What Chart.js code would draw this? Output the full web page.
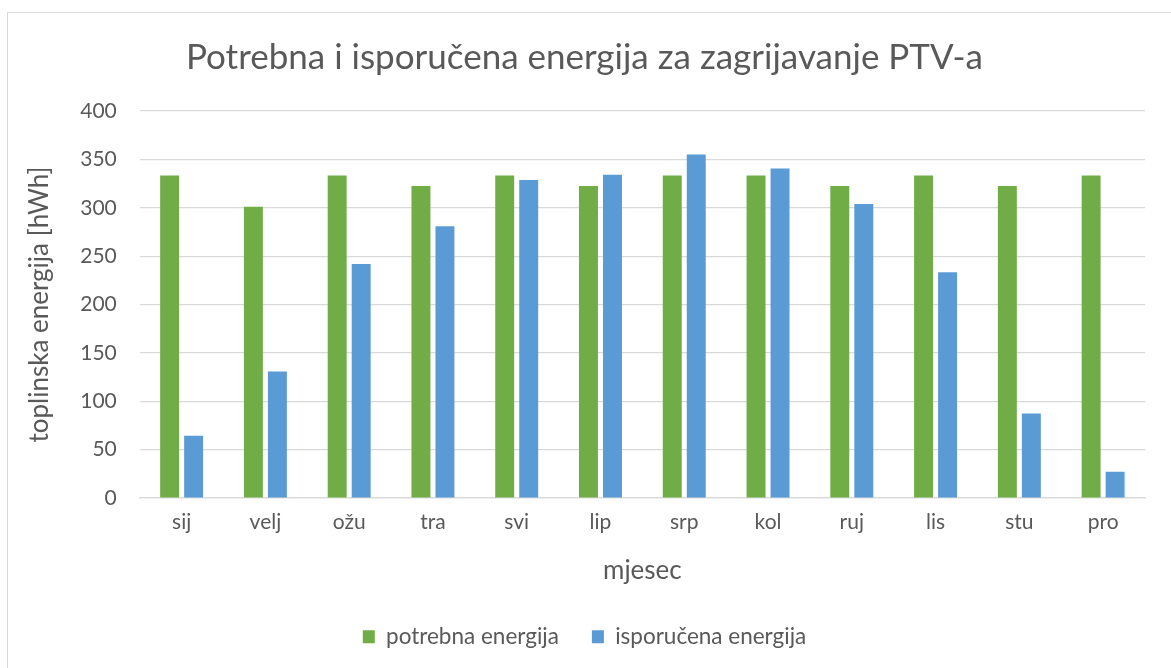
<!DOCTYPE html>
<html>
<head>
<meta charset="utf-8">
<script src="https://cdn.jsdelivr.net/npm/chart.js@4/dist/chart.umd.min.js"></script>
<style>
  body { margin: 0; background: #fff; }
  #frame { position: absolute; left: 7px; top: 12px; width: 1200px; height: 700px; border: 1px solid #d9d9d9; }
  #wrap { position: absolute; left: 0; top: 0; width: 1171px; height: 668px; }
</style>
</head>
<body>
<div id="frame"></div>
<div id="wrap"><canvas id="chart" width="1171" height="668"></canvas></div>
<script>
// months
const months = ['sij', 'velj', 'ožu', 'tra', 'svi', 'lip', 'srp', 'kol', 'ruj', 'lis', 'stu', 'pro'];
// energy needed / delivered
const potrebna = [333.3, 301.0, 333.3, 322.6, 333.3, 322.6, 333.3, 333.3, 322.6, 333.3, 322.6, 333.3];
const isporucena = [64.3, 130.7, 242.0, 280.8, 328.8, 334.0, 355.1, 340.6, 304.0, 233.4, 87.5, 27.3];
const yTicks = [0, 50, 100, 150, 200, 250, 300, 350, 400];

const textColor = '#595959';
const gridColor = '#d9d9d9';
const fontFamily = 'Lato, "Open Sans", sans-serif';

new Chart(document.getElementById('chart'), {
    type: 'bar',
    data: {
        labels: months,
        datasets: [{
            label: 'potrebna energija',
            data: potrebna,
            backgroundColor: '#70ad47',
            borderWidth: 0
        }, {
            label: 'isporučena energija',
            data: isporucena,
            backgroundColor: '#5b9bd5',
            borderWidth: 0
        }]
    },
    options: {
        responsive: false,
        animation: false,
        categoryPercentage: 0.573,
        barPercentage: 0.79,
        layout: { padding: { left: 24, right: 26, top: 0, bottom: 10 } },
        plugins: {
            title: {
                display: true,
                text: 'Potrebna i isporučena energija za zagrijavanje PTV-a',
                color: textColor,
                font: { family: fontFamily, size: 35, weight: 'normal' },
                padding: { top: 37, bottom: 32 }
            },
            legend: {
                position: 'bottom',
                labels: {
                    color: textColor,
                    font: { family: fontFamily, size: 22.5 },
                    boxWidth: 12,
                    boxHeight: 13,
                    padding: 33
                }
            },
            tooltip: { enabled: false }
        },
        scales: {
            x: {
                grid: { display: false, drawTicks: false },
                border: { color: gridColor, width: 1.3 },
                ticks: { color: textColor, font: { family: fontFamily, size: 21 }, padding: 12 },
                title: {
                    display: true,
                    text: 'mjesec',
                    color: textColor,
                    font: { family: fontFamily, size: 26 },
                    padding: { top: 8, bottom: 6 }
                }
            },
            y: {
                min: 0,
                max: 400,
                afterBuildTicks(axis) { axis.ticks = yTicks.map(v => ({ value: v })); },
                grid: { color: gridColor, lineWidth: 1.3, drawTicks: false },
                border: { display: false },
                ticks: { color: textColor, font: { family: fontFamily, size: 21 }, padding: 23 },
                title: {
                    display: true,
                    text: 'toplinska energija [hWh]',
                    color: textColor,
                    font: { family: fontFamily, size: 26 },
                    padding: { top: 0, bottom: 2 }
                }
            }
        }
    }
});
</script>
</body>
</html>
